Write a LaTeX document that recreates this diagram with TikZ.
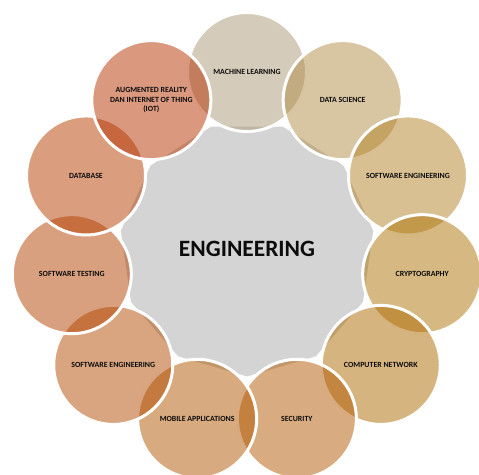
\documentclass[tikz,border=0pt]{standalone}
\usepackage{fontspec}
\setmainfont{Carlito}
\usetikzlibrary{shapes.geometric,calc}

% satellite fills (drawn at half opacity)
\definecolor{cML}{RGB}{171,151,119}
\definecolor{cDS}{RGB}{177,141,71}
\definecolor{cSER}{RGB}{177,129,37}
\definecolor{cCR}{RGB}{173,115,5}
\definecolor{cCN}{RGB}{173,105,1}
\definecolor{cSEC}{RGB}{177,89,1}
\definecolor{cMA}{RGB}{177,85,0}
\definecolor{cSEL}{RGB}{177,75,1}
\definecolor{cST}{RGB}{179,65,0}
\definecolor{cDB}{RGB}{181,61,0}
\definecolor{cIOT}{RGB}{181,49,0}
\definecolor{hubgray}{RGB}{212,212,212}
\definecolor{ink}{RGB}{12,12,12}

\begin{document}
\begin{tikzpicture}[x=1bp,y=1bp,
  hub/.style={regular polygon, regular polygon sides=11, regular polygon rotate=180,
    minimum size=255bp, inner sep=0pt, fill=hubgray, draw=none,
    text=ink, font=\fontsize{23.5}{28}\selectfont\bfseries},
  sat/.style={circle, minimum size=119bp, inner sep=0pt, draw=white, line width=3bp,
    fill opacity=0.5, draw opacity=1, text opacity=1, text=ink, align=center,
    font=\fontsize{7.9}{9.3}\selectfont\bfseries}]
\useasboundingbox (0,0) rectangle (479,475);
\coordinate (c) at (247,226);

\node[hub] (core) at (c) {ENGINEERING};

\foreach \k/\col/\txt in {
   0/cML/{MACHINE LEARNING},
   1/cDS/{DATA SCIENCE},
   2/cSER/{SOFTWARE ENGINEERING},
   3/cCR/{CRYPTOGRAPHY},
   4/cCN/{COMPUTER NETWORK},
   5/cSEC/{SECURITY},
   6/cMA/{MOBILE APPLICATIONS},
   7/cSEL/{SOFTWARE ENGINEERING},
   8/cST/{SOFTWARE TESTING},
   9/cDB/{DATABASE},
   10/cIOT/{AUGMENTED REALITY\\DAN INTERNET OF THING\\(IOT)}}
{
  \node[sat, fill=\col] (s\k) at ($(c)+({90-\k*360/11}:177)$) {\txt};
}
\end{tikzpicture}
\end{document}
